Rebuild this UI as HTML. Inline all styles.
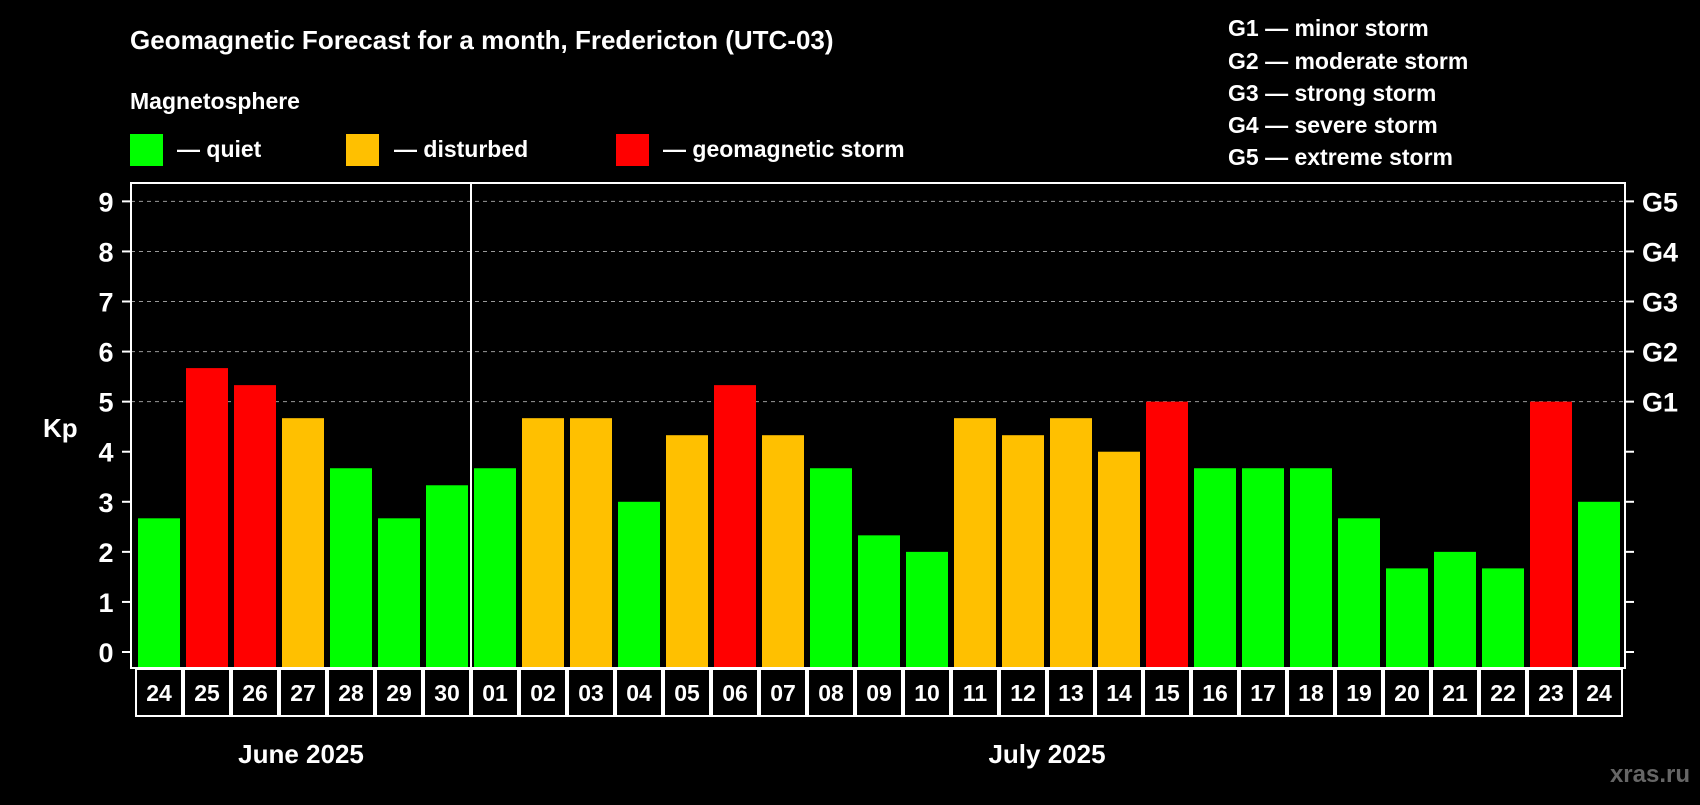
<!DOCTYPE html>
<html><head><meta charset="utf-8"><style>
html,body{margin:0;padding:0;background:#000;}
svg text{font-family:"Liberation Sans",Arial,sans-serif;font-weight:bold;fill:#fff;}
</style></head><body>
<svg id="chart" width="1700" height="800" viewBox="0 0 1700 800" xmlns="http://www.w3.org/2000/svg">
<rect width="1700" height="800" fill="#000"/>
<text x="130" y="49" font-size="26">Geomagnetic Forecast for a month, Fredericton (UTC-03)</text>
<text x="130" y="109" font-size="23">Magnetosphere</text>
<g><rect x="130" y="134" width="33" height="32" fill="#00ff00"/><text x="177" y="157" font-size="23">— quiet</text></g>
<g><rect x="346" y="134" width="33" height="32" fill="#ffc000"/><text x="394" y="157" font-size="23">— disturbed</text></g>
<g><rect x="616" y="134" width="33" height="32" fill="#ff0000"/><text x="663" y="157" font-size="23">— geomagnetic storm</text></g>
<g font-size="23">
<text x="1228" y="36">G1 — minor storm</text>
<text x="1228" y="69">G2 — moderate storm</text>
<text x="1228" y="101">G3 — strong storm</text>
<text x="1228" y="133">G4 — severe storm</text>
<text x="1228" y="165">G5 — extreme storm</text>
</g>
<text x="43" y="437" font-size="26">Kp</text>
<g id="grid"></g><g id="bars"></g><g id="axes"></g>
<text x="301" y="763" font-size="26" text-anchor="middle">June 2025</text>
<text x="1047" y="763" font-size="26" text-anchor="middle">July 2025</text>
<text x="1690" y="782" font-size="24" text-anchor="end" style="fill:#666">xras.ru</text>
</svg>
<script>
const days=["24","25","26","27","28","29","30","01","02","03","04","05","06","07","08","09","10","11","12","13","14","15","16","17","18","19","20","21","22","23","24"];
const kp=[2.67,5.67,5.33,4.67,3.67,2.67,3.33,3.67,4.67,4.67,3,4.33,5.33,4.33,3.67,2.33,2,4.67,4.33,4.67,4,5,3.67,3.67,3.67,2.67,1.67,2,1.67,5,3];
const yTicks=[0,1,2,3,4,5,6,7,8,9];
const gLabels=["G1","G2","G3","G4","G5"];
const NS="http://www.w3.org/2000/svg";
const L=131,R=1625,T=183,B=668,X0=135,PITCH=48,BW=42;
function y(v){return 652-v*50.07;}
function x(i){return X0+i*PITCH;}
function mk(p,t,a){const e=document.createElementNS(NS,t);for(const k in a)e.setAttribute(k,a[k]);p.appendChild(e);return e;}
const grid=document.getElementById('grid'),bars=document.getElementById('bars'),axes=document.getElementById('axes');
yTicks.forEach(v=>{
 if(v>=5){const g=mk(grid,'line',{x1:L,x2:R,y1:y(v),y2:y(v),stroke:'#999','stroke-width':1,'stroke-dasharray':'4,4'});
 
 }
 mk(axes,'line',{x1:L-9,x2:L,y1:y(v),y2:y(v),stroke:'#fff','stroke-width':2});
 mk(axes,'line',{x1:R,x2:R+9,y1:y(v),y2:y(v),stroke:'#fff','stroke-width':2});
 const t=mk(axes,'text',{x:106,y:y(v)+10,'font-size':27,'text-anchor':'middle'});t.textContent=v;
 
 
});
gLabels.forEach((g,i)=>{const t=mk(axes,'text',{x:1642,y:y(5+i)+10,'font-size':27});t.textContent=g;
 
 });
kp.forEach((v,i)=>{
 const c=v>=5?'#ff0000':(v>=4?'#ffc000':'#00ff00');
 const r=mk(bars,'rect',{x:x(i)+3,y:y(v),width:BW,height:B-y(v),fill:c});
 
 
 mk(axes,'rect',{x:x(i)+1,y:B+1,width:PITCH-2,height:47,fill:'none',stroke:'#fff','stroke-width':2});
 const t=mk(axes,'text',{x:x(i)+PITCH/2,y:B+33,'font-size':23,'text-anchor':'middle'});t.textContent=days[i];
 
 
});
mk(axes,'rect',{x:L,y:T,width:R-L,height:B-T,fill:'none',stroke:'#fff','stroke-width':2});
mk(axes,'line',{x1:x(7),x2:x(7),y1:T,y2:B+48,stroke:'#fff','stroke-width':2});
</script>
</body></html>
